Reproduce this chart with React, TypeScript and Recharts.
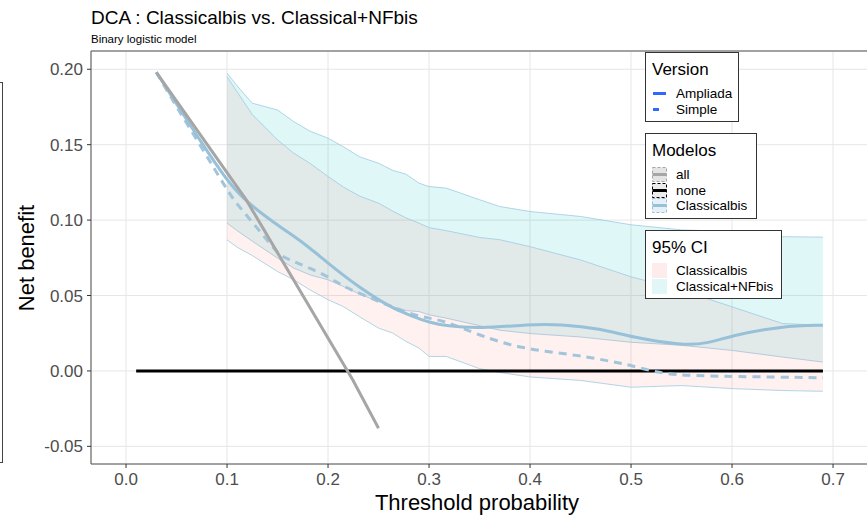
import {
  ComposedChart,
  Line,
  Area,
  XAxis,
  YAxis,
  CartesianGrid,
  ReferenceArea,
} from 'recharts';

const FONT = '"Liberation Sans", Arial, Helvetica, sans-serif';

// axis ticks
const X_TICKS = [0, 0.1, 0.2, 0.3, 0.4, 0.5, 0.6, 0.7];
const X_MINOR = [0.05, 0.15, 0.25, 0.35, 0.45, 0.55, 0.65];
const Y_TICKS = [-0.05, 0, 0.05, 0.1, 0.15, 0.2];
const Y_MINOR = [-0.025, 0.025, 0.075, 0.125, 0.175];
const X_DOMAIN: [number, number] = [-0.0347, 0.7465];
const Y_DOMAIN: [number, number] = [-0.0617, 0.2121];

// treat all / treat none
const ALL_X = [0.03, 0.119, 0.2244, 0.25];
const ALL_NB = [0.198, 0.1134, -0.0058, -0.038];
const NONE_X = [0.01, 0.69];
const NONE_NB = [0, 0];

// Classicalbis curves: Ampliada (solid) and Simple (dashed)
const AMP_X = [0.03, 0.05, 0.075, 0.1, 0.119, 0.149, 0.166, 0.182, 0.2, 0.215, 0.231, 0.25, 0.264, 0.284, 0.3, 0.317, 0.35, 0.4, 0.43, 0.47, 0.5, 0.55, 0.575, 0.6, 0.65, 0.69];
const AMP_NB = [0.198, 0.177, 0.151, 0.126, 0.112, 0.097, 0.0895, 0.0815, 0.0715, 0.0635, 0.0555, 0.0472, 0.0417, 0.0361, 0.0322, 0.0298, 0.028, 0.031, 0.031, 0.028, 0.0225, 0.017, 0.018, 0.0236, 0.0298, 0.0303];
const SIM_X = [0.03, 0.05, 0.075, 0.1, 0.109, 0.126, 0.142, 0.152, 0.166, 0.182, 0.2, 0.215, 0.231, 0.25, 0.284, 0.3, 0.317, 0.35, 0.39, 0.45, 0.483, 0.5, 0.525, 0.55, 0.6, 0.69];
const SIM_NB = [0.198, 0.175, 0.148, 0.12, 0.1112, 0.098, 0.0847, 0.0765, 0.0725, 0.0682, 0.0626, 0.056, 0.0516, 0.046, 0.0372, 0.035, 0.0328, 0.0236, 0.0148, 0.0103, 0.0059, 0.0037, -0.001, -0.003, -0.0037, -0.0045];

// 95% CI ribbons
const CI_X = [0.1, 0.11, 0.125, 0.15, 0.166, 0.182, 0.2, 0.215, 0.231, 0.25, 0.264, 0.277, 0.29, 0.3, 0.317, 0.35, 0.37, 0.4, 0.45, 0.5, 0.55, 0.6, 0.65, 0.69];
const CI_PINK_LO = [0.0869, 0.082, 0.0765, 0.0659, 0.0604, 0.0538, 0.0472, 0.0427, 0.036, 0.0284, 0.0251, 0.0196, 0.0152, 0.0096, 0.0096, 0.0015, -0.001, -0.004, -0.0063, -0.0108, -0.0097, -0.0117, -0.013, -0.0135];
const CI_PINK_HI = [0.1951, 0.185, 0.17, 0.1532, 0.1444, 0.1377, 0.1289, 0.122, 0.116, 0.1112, 0.106, 0.1015, 0.098, 0.095, 0.093, 0.0885, 0.087, 0.0824, 0.0736, 0.0624, 0.0536, 0.0425, 0.0314, 0.0303];
const CI_CYAN_LO = [0.098, 0.093, 0.086, 0.0748, 0.0682, 0.0637, 0.0604, 0.056, 0.051, 0.046, 0.0427, 0.04, 0.0394, 0.0372, 0.035, 0.03, 0.027, 0.0248, 0.0225, 0.019, 0.017, 0.0136, 0.0092, 0.0059];
const CI_CYAN_HI = [0.1974, 0.189, 0.1775, 0.173, 0.1653, 0.159, 0.1543, 0.1487, 0.142, 0.1377, 0.133, 0.1305, 0.1245, 0.1222, 0.1212, 0.1135, 0.109, 0.1057, 0.1024, 0.0969, 0.0935, 0.0924, 0.089, 0.0887];

const pts = (xs: number[], ys: number[]) => xs.map((x, i) => ({ x, y: ys[i] }));
const band = (xs: number[], lo: number[], hi: number[]) =>
  xs.map((x, i) => ({ x, band: [lo[i], hi[i]] }));

const BLUE = '#96c1d8';
const RIBBON_EDGE = '#9ecae1';

const legendBox: React.CSSProperties = {
  position: 'absolute',
  left: 645,
  border: '1px solid #333',
  background: '#fff',
  boxSizing: 'border-box',
};

function LegendTitle({ text, top }: { text: string; top: number }) {
  return (
    <div style={{ position: 'absolute', left: 6, top, fontSize: 17, lineHeight: '17px', color: '#000' }}>
      {text}
    </div>
  );
}

function LegendRow({ top, label, children }: { top: number; label: string; children: React.ReactNode }) {
  return (
    <div style={{ position: 'absolute', left: 6, top, height: 15, display: 'flex', alignItems: 'center' }}>
      <svg width={15} height={15} style={{ display: 'block' }}>
        {children}
      </svg>
      <span style={{ marginLeft: 9, fontSize: 13.5, lineHeight: '15px', color: '#000', whiteSpace: 'nowrap' }}>
        {label}
      </span>
    </div>
  );
}

export default function App() {
  return (
    <div
      style={{
        position: 'absolute',
        left: 0,
        top: 0,
        width: 867,
        height: 519,
        overflow: 'hidden',
        background: '#fff',
        fontFamily: FONT,
      }}
    >
      <div style={{ position: 'absolute', left: 91, top: 7, fontSize: 19, lineHeight: '22px', color: '#000' }}>
        DCA : Classicalbis vs. Classical+NFbis
      </div>
      <div style={{ position: 'absolute', left: 91, top: 33, fontSize: 11.5, lineHeight: '13px', color: '#000' }}>
        Binary logistic model
      </div>

      {/* cut-off box on the far left */}
      <div
        style={{
          position: 'absolute',
          left: -100,
          top: 82,
          width: 103,
          height: 381,
          border: '1px solid #444',
          boxSizing: 'border-box',
        }}
      />

      <ComposedChart
        width={880}
        height={519}
        margin={{ top: 51, right: 0, bottom: 0, left: 0 }}
        style={{ position: 'absolute', left: 0, top: 0 }}
      >
        <XAxis
          xAxisId="minor"
          type="number"
          dataKey="x"
          domain={X_DOMAIN}
          allowDataOverflow
          ticks={[...X_MINOR, ...X_TICKS]}
          orientation="top"
          height={0}
          tick={false}
          tickLine={false}
          axisLine={false}
        />
        <YAxis
          yAxisId="minor"
          type="number"
          domain={Y_DOMAIN}
          allowDataOverflow
          ticks={[...Y_MINOR, ...Y_TICKS]}
          orientation="right"
          width={0}
          tick={false}
          tickLine={false}
          axisLine={false}
        />
        <CartesianGrid xAxisId="minor" yAxisId="minor" stroke="#f2f2f2" strokeWidth={1} />
        <XAxis
          type="number"
          dataKey="x"
          domain={X_DOMAIN}
          allowDataOverflow
          ticks={X_TICKS}
          tickFormatter={(v: number) => v.toFixed(1)}
          height={55}
          tickSize={4}
          tickMargin={5}
          axisLine={false}
          tickLine={{ stroke: '#333' }}
          tick={{ fill: '#4d4d4d', fontSize: 17, fontFamily: FONT }}
        />
        <YAxis
          type="number"
          domain={Y_DOMAIN}
          allowDataOverflow
          ticks={Y_TICKS}
          tickFormatter={(v: number) => v.toFixed(2)}
          width={91}
          tickSize={4}
          tickMargin={4}
          axisLine={false}
          tickLine={{ stroke: '#333' }}
          tick={{ fill: '#4d4d4d', fontSize: 17, fontFamily: FONT }}
        />
        <CartesianGrid stroke="#e6e6e6" strokeWidth={1} />

        <Area
          data={band(CI_X, CI_CYAN_LO, CI_CYAN_HI)}
          dataKey="band"
          type="linear"
          fill="#00BFC4"
          fillOpacity={0.12}
          stroke={RIBBON_EDGE}
          strokeWidth={0.8}
          dot={false}
          activeDot={false}
          isAnimationActive={false}
        />
        <Area
          data={band(CI_X, CI_PINK_LO, CI_PINK_HI)}
          dataKey="band"
          type="linear"
          fill="#F8766D"
          fillOpacity={0.1}
          stroke={RIBBON_EDGE}
          strokeWidth={0.8}
          dot={false}
          activeDot={false}
          isAnimationActive={false}
        />
        <Line
          data={pts(NONE_X, NONE_NB)}
          dataKey="y"
          stroke="#000"
          strokeWidth={3}
          dot={false}
          activeDot={false}
          isAnimationActive={false}
        />
        <Line
          data={pts(SIM_X, SIM_NB)}
          dataKey="y"
          type="basis"
          stroke="#a3c4da"
          strokeWidth={3}
          strokeDasharray="8 6"
          dot={false}
          activeDot={false}
          isAnimationActive={false}
        />
        <Line
          data={pts(AMP_X, AMP_NB)}
          dataKey="y"
          type="basis"
          stroke={BLUE}
          strokeWidth={3}
          dot={false}
          activeDot={false}
          isAnimationActive={false}
        />
        <Line
          data={pts(ALL_X, ALL_NB)}
          dataKey="y"
          type="linear"
          stroke="#a6a6a6"
          strokeWidth={3}
          dot={false}
          activeDot={false}
          isAnimationActive={false}
        />
        <ReferenceArea
          x1={X_DOMAIN[0]}
          x2={X_DOMAIN[1]}
          y1={Y_DOMAIN[0]}
          y2={Y_DOMAIN[1]}
          fill="none"
          stroke="#555"
          strokeWidth={1}
          ifOverflow="visible"
        />
      </ComposedChart>

      {/* axis titles */}
      <div
        style={{
          position: 'absolute',
          left: 477,
          top: 503,
          transform: 'translate(-50%, -50%)',
          fontSize: 22,
          color: '#000',
          whiteSpace: 'nowrap',
        }}
      >
        Threshold probability
      </div>
      <div
        style={{
          position: 'absolute',
          left: 27,
          top: 258,
          transform: 'translate(-50%, -50%) rotate(-90deg)',
          fontSize: 22,
          color: '#000',
          whiteSpace: 'nowrap',
        }}
      >
        Net benefit
      </div>

      {/* Version legend */}
      <div style={{ ...legendBox, top: 52, width: 94, height: 70 }}>
        <LegendTitle text="Version" top={8} />
        <LegendRow top={33} label="Ampliada">
          <line x1={1} y1={7.5} x2={14} y2={7.5} stroke="#3366ff" strokeWidth={3} />
        </LegendRow>
        <LegendRow top={49} label="Simple">
          <line x1={1} y1={7.5} x2={7} y2={7.5} stroke="#3366ff" strokeWidth={3} />
        </LegendRow>
      </div>

      {/* Modelos legend */}
      <div style={{ ...legendBox, top: 133, width: 112, height: 86 }}>
        <LegendTitle text="Modelos" top={8} />
        <LegendRow top={33} label="all">
          <rect x={0.5} y={0.5} width={14} height={14} fill="#e4e4e4" stroke="#a6a6a6" strokeDasharray="3 2" />
          <line x1={0.5} y1={7.5} x2={14.5} y2={7.5} stroke="#a6a6a6" strokeWidth={3} />
        </LegendRow>
        <LegendRow top={49} label="none">
          <rect x={0.5} y={0.5} width={14} height={14} fill="#ececec" stroke="#000" strokeDasharray="3 2" />
          <line x1={0.5} y1={7.5} x2={14.5} y2={7.5} stroke="#000" strokeWidth={3} />
        </LegendRow>
        <LegendRow top={64} label="Classicalbis">
          <rect x={0.5} y={0.5} width={14} height={14} fill="#e6f0f6" stroke={BLUE} strokeDasharray="3 2" />
          <line x1={0.5} y1={7.5} x2={14.5} y2={7.5} stroke={BLUE} strokeWidth={3} />
        </LegendRow>
      </div>

      {/* 95% CI legend */}
      <div style={{ ...legendBox, top: 230, width: 137, height: 69 }}>
        <LegendTitle text="95% CI" top={8} />
        <LegendRow top={32} label="Classicalbis">
          <rect x={0} y={0} width={15} height={15} fill="#fdeceb" />
        </LegendRow>
        <LegendRow top={48} label="Classical+NFbis">
          <rect x={0} y={0} width={15} height={15} fill="#e0f6f7" />
        </LegendRow>
      </div>
    </div>
  );
}
